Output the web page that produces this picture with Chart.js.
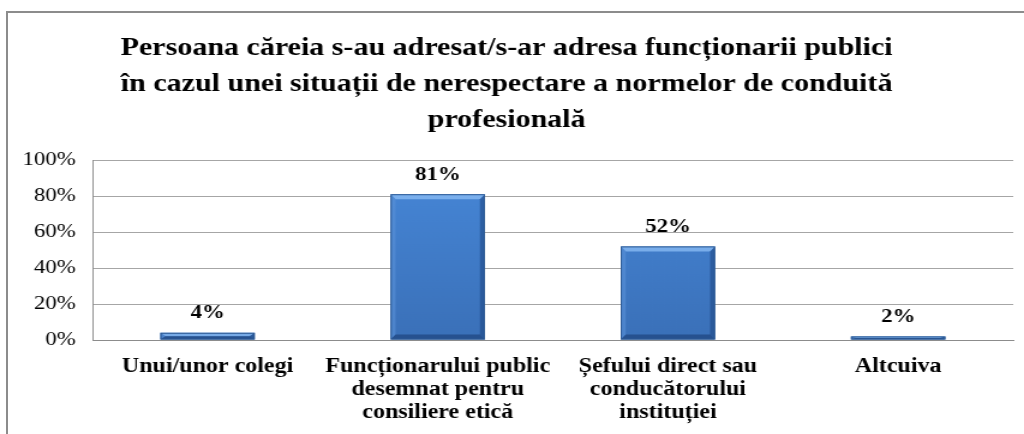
<!DOCTYPE html>
<html><head><meta charset="utf-8">
<script src="https://cdn.jsdelivr.net/npm/chart.js@4.4.1/dist/chart.umd.min.js"></script>
<style>
html,body{margin:0;padding:0;overflow:hidden;background:#fff;}
#wrap{position:relative;width:1024px;height:434px;overflow:hidden;}
#frame{position:absolute;left:6px;top:11px;width:1100px;height:600px;border:2px solid #8c8c8c;box-sizing:border-box;}
#stretch{position:absolute;left:0;top:0;width:853px;height:434px;transform:scaleX(1.2005);transform-origin:0 0;}
</style></head>
<body><div id="wrap"><div id="frame"></div><div id="stretch"><canvas id="c" width="853" height="434"></canvas></div></div>
<script>
const titleLines = ["Persoana căreia s-au adresat/s-ar adresa funcționarii publici","în cazul unei situații de nerespectare a normelor de conduită","profesională"];
const categories = ["Unui/unor colegi",["Funcționarului public","desemnat pentru","consiliere etică"],["Șefului direct sau","conducătorului","instituției"],"Altcuiva"];
const values = [4, 81, 52, 2];
const yTicks = [0, 20, 40, 60, 80, 100];

const SERIF = '"Liberation Serif", "Times New Roman", serif';

function barFill(ctx){
  const chart = ctx.chart;
  const area = chart.chartArea;
  if(!area) return '#3f7ccb';
  const g = chart.ctx.createLinearGradient(0, area.top, 0, area.bottom);
  g.addColorStop(0, '#4788d9');
  g.addColorStop(1, '#3a70b8');
  return g;
}

const bevelPlugin = {
  id:'bevel',
  afterDatasetsDraw(chart){
    const ctx = chart.ctx;
    const meta = chart.getDatasetMeta(0);
    ctx.save();
    meta.data.forEach(bar => {
      const l = bar.x - bar.width/2, r = bar.x + bar.width/2, t = bar.y, b = bar.base;
      const h = b - t;
      const bv = Math.min(5, h/2), bh = Math.min(4.2, bar.width/2);
      const poly = (pts, col) => { ctx.beginPath(); ctx.moveTo(pts[0][0],pts[0][1]); for(let i=1;i<pts.length;i++) ctx.lineTo(pts[i][0],pts[i][1]); ctx.closePath(); ctx.fillStyle = col; ctx.fill(); };
      poly([[l,t],[r,t],[r-bh,t+bv],[l+bh,t+bv]], 'rgba(140,190,245,0.75)');
      poly([[l,t],[l+bh,t+bv],[l+bh,b-bv],[l,b]], 'rgba(90,145,215,0.6)');
      poly([[r,t],[r,b],[r-bh,b-bv],[r-bh,t+bv]], 'rgba(30,70,130,0.55)');
      poly([[l,b],[l+bh,b-bv],[r-bh,b-bv],[r,b]], 'rgba(25,60,115,0.6)');
      ctx.strokeStyle = '#2d5a94'; ctx.lineWidth = 1;
      ctx.strokeRect(l+0.5, t+0.5, r-l-1, h-1);
    });
    ctx.restore();
  }
};

const labelPlugin = {
  id:'valueLabels',
  afterDatasetsDraw(chart){
    const ctx = chart.ctx;
    const meta = chart.getDatasetMeta(0);
    ctx.save();
    ctx.font = 'bold 19px ' + SERIF;
    ctx.fillStyle = '#000';
    ctx.textAlign = 'center';
    ctx.textBaseline = 'bottom';
    meta.data.forEach((bar, i) => {
      ctx.fillText(values[i] + '%', bar.x, bar.y - 10);
    });
    ctx.restore();
  }
};

new Chart(document.getElementById('c'), {
  type:'bar',
  data:{ labels:categories, datasets:[{ data:values, backgroundColor:barFill, borderWidth:0, barPercentage:0.41, categoryPercentage:1 }] },
  options:{
    responsive:false, animation:false,
    layout:{ padding:{ left:0, right:9, top:0, bottom:0 } },
    plugins:{
      legend:{display:false}, tooltip:{enabled:false},
      title:{ display:true, text:titleLines, color:'#000', font:{family:SERIF, size:25, weight:'bold', lineHeight:1.44}, padding:{top:31, bottom:21} }
    },
    scales:{
      x:{
        grid:{display:false, drawTicks:false},
        border:{display:true, color:'#8c8c8c', width:1},
        ticks:{ color:'#000', font:{family:SERIF, size:20, weight:'bold', lineHeight:1.15}, maxRotation:0, autoSkip:false, padding:15 },
        afterFit(s){ s.height = 94; }
      },
      y:{
        min:0, max:100,
        afterBuildTicks(s){ s.ticks = yTicks.map(v => ({value:v})); },
        grid:{ color:'#a6a6a6', lineWidth:1, drawTicks:false },
        border:{display:true, color:'#8c8c8c', width:1},
        ticks:{ color:'#000', font:{family:SERIF, size:19}, padding:14, callback:v => v + '%' },
        afterFit(s){ s.width = 77; }
      }
    }
  },
  plugins:[bevelPlugin, labelPlugin]
});
</script></body></html>
